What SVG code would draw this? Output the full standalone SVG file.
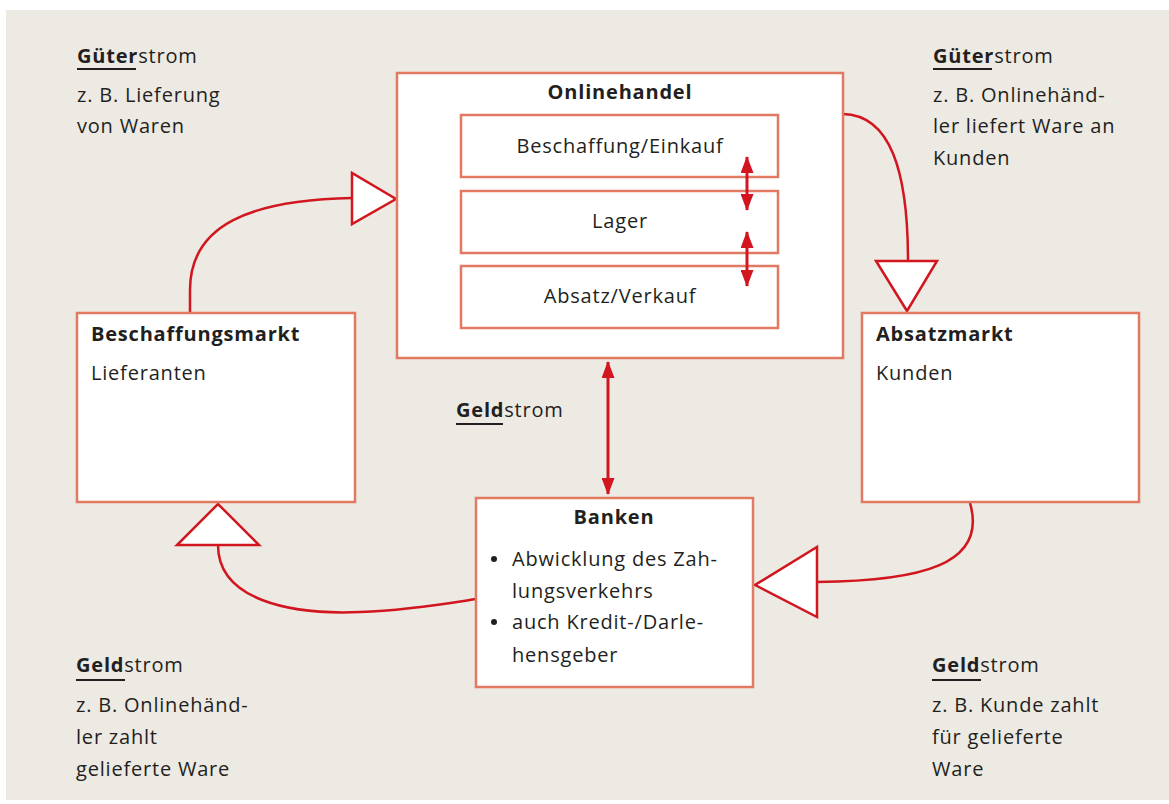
<svg xmlns="http://www.w3.org/2000/svg" width="1169" height="804" viewBox="0 0 1169 804">
<defs>
<style>
.box{fill:#fff;stroke:#E27A63;stroke-width:2.5}
.flow{fill:none;stroke:#D2161F;stroke-width:2.5}
.tri{fill:#fff;stroke:#D2161F;stroke-width:2.5;stroke-linejoin:miter}
.dbl{fill:none;stroke:#D2161F;stroke-width:3}
text{font-family:"Open Sans","Noto Sans","Liberation Sans",sans-serif;font-size:20px;fill:#231F20;letter-spacing:0.8px}
.b{font-weight:bold;letter-spacing:0.8px}
.ul{stroke:#231F20;stroke-width:2}
</style>
<marker id="ah" viewBox="0 0 17 13" refX="16" refY="6.5" markerWidth="17" markerHeight="13" markerUnits="userSpaceOnUse" orient="auto-start-reverse">
<path d="M0,0 L17,6.5 L0,13 Z" fill="#D2161F"/>
</marker>
</defs>
<rect x="6" y="10" width="1163" height="790" fill="#EDE9E3"/>

<g id="connectors">
<path class="flow" d="M190,313 L190,290 C190,225 250,200 352,198"/>
<polygon class="tri" points="352,173 352,224 396,199"/>
<path class="flow" d="M843,114 C890,115 908,170 908,261"/>
<polygon class="tri" points="876,261 937,261 907,311"/>
<path class="flow" d="M970,503 C988,565 920,581 817,582"/>
<polygon class="tri" points="817,547 817,617 755,585"/>
<path class="flow" d="M476,599 C450,603 410,610 360,612 C290,615 218,600 218,545"/>
<polygon class="tri" points="177,545 259,545 218,504"/>
<line class="dbl" x1="608" y1="362" x2="608" y2="494" marker-start="url(#ah)" marker-end="url(#ah)"/>
</g>

<g id="onlinehandel">
<rect class="box" x="397" y="73" width="446" height="285"/>
<text class="b" x="620" y="99" text-anchor="middle">Onlinehandel</text>
</g>
<g id="beschaffung-einkauf">
<rect class="box" x="461" y="115" width="317" height="62"/>
<text x="620" y="153" text-anchor="middle">Beschaffung/Einkauf</text>
</g>
<g id="lager">
<rect class="box" x="461" y="191" width="317" height="62"/>
<text x="620" y="228" text-anchor="middle">Lager</text>
</g>
<g id="absatz-verkauf">
<rect class="box" x="461" y="266" width="317" height="62"/>
<text x="620" y="303" text-anchor="middle">Absatz/Verkauf</text>
</g>
<g id="internal-arrows">
<line class="dbl" x1="747" y1="157" x2="747" y2="210" marker-start="url(#ah)" marker-end="url(#ah)"/>
<line class="dbl" x1="747" y1="232" x2="747" y2="286" marker-start="url(#ah)" marker-end="url(#ah)"/>
</g>

<g id="beschaffungsmarkt">
<rect class="box" x="77" y="313" width="278" height="189"/>
<text class="b" x="91" y="341">Beschaffungsmarkt</text>
<text x="91" y="380">Lieferanten</text>
</g>
<g id="absatzmarkt">
<rect class="box" x="862" y="313" width="277" height="189"/>
<text class="b" x="876" y="341">Absatzmarkt</text>
<text x="876" y="380">Kunden</text>
</g>
<g id="banken">
<rect class="box" x="476" y="498" width="277" height="189"/>
<text class="b" x="614" y="524" text-anchor="middle">Banken</text>
<circle cx="494" cy="559" r="3" fill="#231F20"/>
<text x="512" y="566">Abwicklung des Zah-</text>
<text x="512" y="598">lungsverkehrs</text>
<circle cx="494" cy="622" r="3" fill="#231F20"/>
<text x="512" y="629">auch Kredit-/Darle-</text>
<text x="512" y="662">hensgeber</text>
</g>

<g id="label-gueter-links">
<text x="77" y="63"><tspan class="b">Güter</tspan>strom</text>
<line class="ul" x1="77" y1="69" x2="136" y2="69"/>
<text x="77" y="102">z. B. Lieferung</text>
<text x="77" y="133">von Waren</text>
</g>
<g id="label-gueter-rechts">
<text x="933" y="63"><tspan class="b">Güter</tspan>strom</text>
<line class="ul" x1="933" y1="69" x2="992" y2="69"/>
<text x="933" y="102">z. B. Onlinehänd-</text>
<text x="933" y="133">ler liefert Ware an</text>
<text x="933" y="165">Kunden</text>
</g>
<g id="label-geld-mitte">
<text x="456" y="417"><tspan class="b">Geld</tspan>strom</text>
<line class="ul" x1="456" y1="424" x2="503" y2="424"/>
</g>
<g id="label-geld-links">
<text x="76" y="672"><tspan class="b">Geld</tspan>strom</text>
<line class="ul" x1="76" y1="680" x2="125" y2="680"/>
<text x="76" y="712">z. B. Onlinehänd-</text>
<text x="76" y="744">ler zahlt</text>
<text x="76" y="776">gelieferte Ware</text>
</g>
<g id="label-geld-rechts">
<text x="932" y="672"><tspan class="b">Geld</tspan>strom</text>
<line class="ul" x1="932" y1="680" x2="981" y2="680"/>
<text x="932" y="712">z. B. Kunde zahlt</text>
<text x="932" y="744">für gelieferte</text>
<text x="932" y="776">Ware</text>
</g>
</svg>
